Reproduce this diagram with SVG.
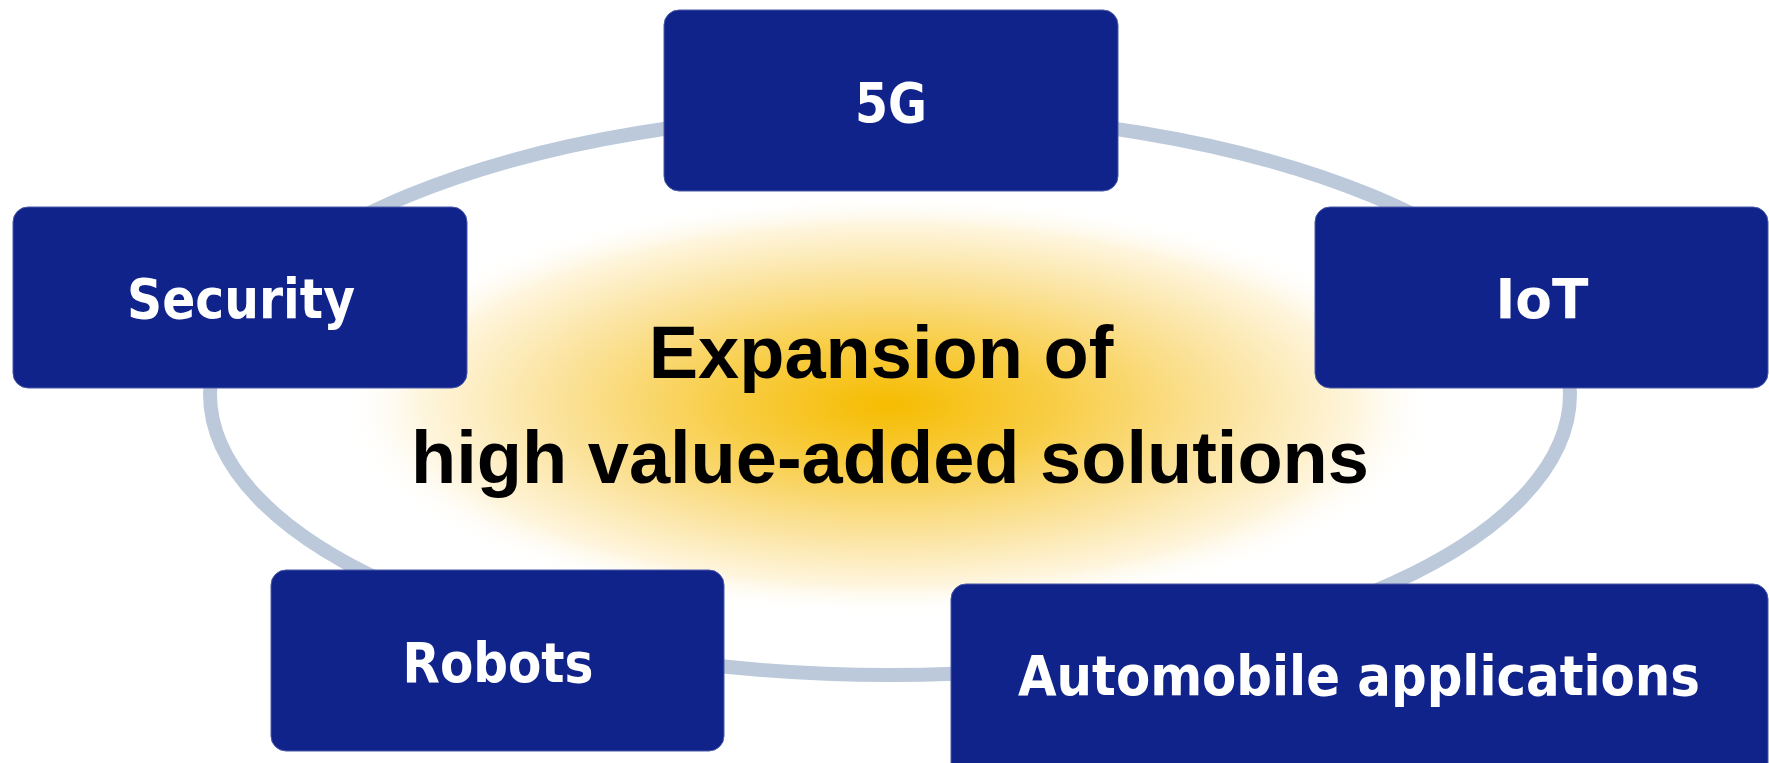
<svg xmlns="http://www.w3.org/2000/svg" width="1769" height="763" viewBox="0 0 1769 763">
  <defs>
    <radialGradient id="glow" cx="889" cy="405" r="550" gradientUnits="userSpaceOnUse" gradientTransform="translate(889 405) scale(1 0.385) translate(-889 -405)">
      <stop offset="0" stop-color="#F6BC00"/>
      <stop offset="0.3" stop-color="#F8CD45"/>
      <stop offset="0.6" stop-color="#FBE29A"/>
      <stop offset="0.85" stop-color="#FEF5DD"/>
      <stop offset="1" stop-color="#FFFFFF" stop-opacity="0"/>
    </radialGradient>
    <style>
      .box { fill: #10238B; stroke: #4A58A8; stroke-width: 1; }
      .lbl { fill: #FFFFFF; font-family: "DejaVu Sans Condensed", "DejaVu Sans", Verdana, sans-serif; font-weight: bold; font-size: 55px; text-anchor: middle; }
      .ctr { fill: #000000; font-family: "Liberation Sans", Arial, sans-serif; font-weight: bold; font-size: 74px; text-anchor: middle; }
    </style>
  </defs>
  <rect x="0" y="0" width="1769" height="763" fill="#FFFFFF"/>
  <ellipse cx="889" cy="405" rx="552" ry="214" fill="url(#glow)"/>
  <g id="connectors">
    <ellipse cx="890" cy="394" rx="680" ry="281" fill="none" stroke="#BBC9DA" stroke-width="14"/>
  </g>
  <g id="node-5g">
    <rect class="box" x="664" y="10" width="454" height="181" rx="15"/>
    <text class="lbl" x="891" y="122" textLength="72" lengthAdjust="spacingAndGlyphs">5G</text>
  </g>
  <g id="node-security">
    <rect class="box" x="13" y="207" width="454" height="181" rx="15"/>
    <text class="lbl" x="241" y="318" textLength="228" lengthAdjust="spacingAndGlyphs">Security</text>
  </g>
  <g id="node-iot">
    <rect class="box" x="1315" y="207" width="453" height="181" rx="15"/>
    <text class="lbl" x="1542" y="318" textLength="93" lengthAdjust="spacingAndGlyphs">IoT</text>
  </g>
  <g id="node-robots">
    <rect class="box" x="271" y="570" width="453" height="181" rx="15"/>
    <text class="lbl" x="498" y="682" textLength="191" lengthAdjust="spacingAndGlyphs">Robots</text>
  </g>
  <g id="node-automobile">
    <rect class="box" x="951" y="584" width="817" height="195" rx="15"/>
    <text class="lbl" x="1359" y="695" textLength="682" lengthAdjust="spacingAndGlyphs">Automobile applications</text>
  </g>
  <g id="center">
    <text class="ctr" x="881" y="378">Expansion of</text>
    <text class="ctr" x="890" y="483">high value-added solutions</text>
  </g>
</svg>
